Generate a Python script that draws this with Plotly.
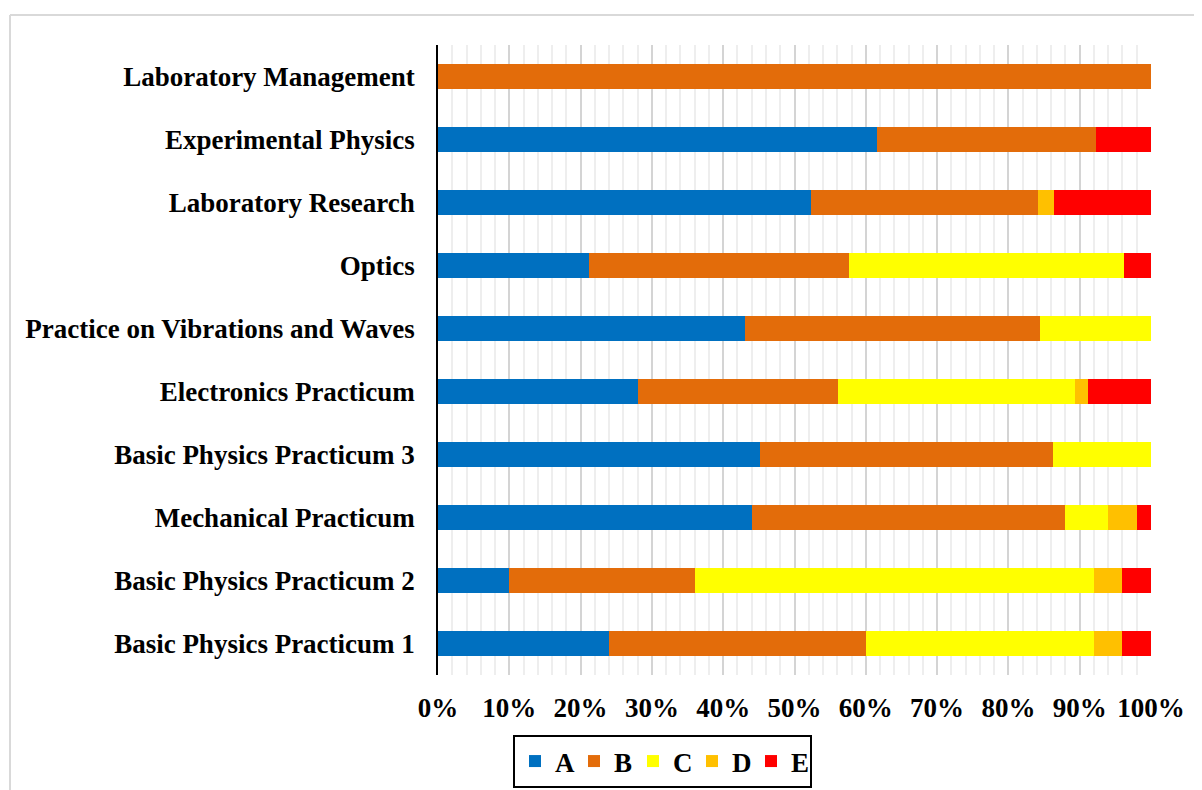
import plotly.graph_objects as go

categories = [
    "Basic Physics Practicum 1",
    "Basic Physics Practicum 2",
    "Mechanical Practicum",
    "Basic Physics Practicum 3",
    "Electronics Practicum",
    "Practice on Vibrations and Waves",
    "Optics",
    "Laboratory Research",
    "Experimental Physics",
    "Laboratory Management",
]
A = [24, 10, 44, 45.1, 28.1, 43.1, 21.2, 52.3, 61.5, 0]
B = [36, 26, 44, 41.2, 28.0, 41.3, 36.5, 31.8, 30.8, 100]
C = [32, 56, 6, 13.7, 33.3, 15.6, 38.5, 0, 0, 0]
D = [4, 4, 4, 0, 1.8, 0, 0, 2.3, 0, 0]
E = [4, 4, 2, 0, 8.8, 0, 3.8, 13.6, 7.7, 0]

series_names = ["A", "B", "C", "D", "E"]
series_colors = ["#0070C0", "#E36C0A", "#FFFF00", "#FFC000", "#FF0000"]

tick_vals = [0, 10, 20, 30, 40, 50, 60, 70, 80, 90, 100]
tick_text = ["0%", "10%", "20%", "30%", "40%", "50%", "60%", "70%", "80%", "90%", "100%"]

# page body has an 8px default margin
OFF = 8
W, H = 1202 - OFF, 790 - OFF
L, T = 438 - OFF, 45 - OFF
pw, ph = 713, 630
R = W - L - pw
Bm = H - T - ph

fig = go.Figure()
for name, vals, col in zip(series_names, [A, B, C, D, E], series_colors):
    fig.add_trace(go.Bar(y=categories, x=vals, name=name, orientation="h",
                         marker=dict(color=col, line=dict(width=0))))

font = dict(family="Liberation Serif", size=27, color="black", weight="bold")

def px_to_paper_x(px):
    return (px - OFF - L) / pw

def px_to_paper_y(py):
    return (T + ph - (py - OFF)) / ph

fig.update_layout(
    width=W, height=H,
    margin=dict(l=L, r=R, t=T, b=Bm, pad=0, autoexpand=False),
    barmode="stack", barnorm="percent", bargap=0.6,
    plot_bgcolor="white", paper_bgcolor="white",
    font=font,
    showlegend=True,
    legend=dict(orientation="h", xref="container", x=(662.5 - OFF) / W, xanchor="center",
                yref="container", y=(H - (735 - OFF)) / H, yanchor="top",
                bordercolor="black", borderwidth=2, font=font,
                itemwidth=30, entrywidth=14, entrywidthmode="pixels",
                traceorder="normal"),
    xaxis=dict(range=[0, 100], tickvals=tick_vals, ticktext=tick_text,
               showgrid=True, gridcolor="#d4d4d4", gridwidth=1.5,
               minor=dict(dtick=2, showgrid=True, gridcolor="#eeeeee", gridwidth=1.5),
               zeroline=False, showline=False, ticks="", ticklabelstandoff=14,
               tickfont=font, fixedrange=True),
    yaxis=dict(showline=True, linecolor="black", linewidth=1.5, ticks="",
               showgrid=False, ticklabelstandoff=16, tickfont=font,
               categoryorder="array", categoryarray=categories),
    shapes=[
        dict(type="line", xref="paper", yref="paper",
             x0=px_to_paper_x(10), x1=px_to_paper_x(10), y0=-0.5, y1=px_to_paper_y(15),
             line=dict(color="#d9d9d9", width=2)),
        dict(type="line", xref="paper", yref="paper",
             x0=px_to_paper_x(10), x1=1.2, y0=px_to_paper_y(15), y1=px_to_paper_y(15),
             line=dict(color="#d9d9d9", width=2)),
    ],
)

fig.write_html("out.html")
